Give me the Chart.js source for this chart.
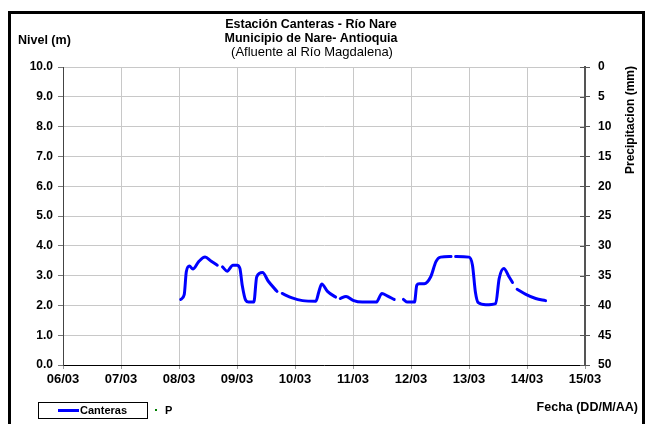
<!DOCTYPE html>
<html>
<head>
<meta charset="utf-8">
<script src="https://cdn.jsdelivr.net/npm/chart.js@4"></script>
<style>
  html, body { margin: 0; padding: 0; background: #fff; }
  #wrap { position: relative; width: 647px; height: 424px; }
</style>
</head>
<body>
<div id="wrap"><canvas id="c"></canvas></div>
<script>
// ---- data ----
const fechas = [8.03, 8.09, 8.126, 8.18, 8.24, 8.34, 8.45, 8.55, 8.66, 8.70,
  8.75, 8.83, 8.93, 9.0, 9.05, 9.09, 9.15, 9.2, 9.29, 9.34, 9.44, 9.54, 9.69, 9.73,
  9.78, 9.95, 10.13, 10.36, 10.41, 10.46, 10.56, 10.70, 10.74,
  10.78, 10.88, 11.0, 11.16, 11.4, 11.5, 11.59, 11.71, 11.79,
  11.87, 11.94, 12.06, 12.1, 12.14, 12.23, 12.34, 12.43, 12.51, 12.69, 12.73,
  12.77, 13.0, 13.06, 13.11, 13.16, 13.29, 13.46, 13.52, 13.6, 13.69, 13.75, 13.79,
  13.83, 13.98, 14.15, 14.32];
const nivel = [2.2, 2.36, 3.13, 3.32, 3.22, 3.47, 3.62, 3.49, 3.35, null,
  3.29, 3.15, 3.35, 3.35, 3.24, 2.68, 2.17, 2.11, 2.11, 2.96, 3.1, 2.81, 2.47, null,
  2.4, 2.25, 2.16, 2.14, 2.45, 2.72, 2.47, 2.28, null,
  2.23, 2.3, 2.17, 2.11, 2.11, 2.4, 2.32, 2.2, null,
  2.2, 2.11, 2.11, 2.68, 2.73, 2.73, 2.96, 3.47, 3.62, 3.64, null,
  3.64, 3.62, 3.35, 2.45, 2.09, 2.02, 2.06, 2.9, 3.24, 2.96, 2.77, null,
  2.54, 2.37, 2.23, 2.16];
const precipitacion = [];
const diasTicks = [6, 7, 8, 9, 10, 11, 12, 13, 14, 15];
const mes = '03';
const tituloLineas = ['Estación Canteras - Río Nare', 'Municipio de Nare- Antioquia'];
const subtitulo = '(Afluente al Río Magdalena)';

Chart.defaults.font.family = "'Liberation Sans', Arial, sans-serif";
Chart.defaults.color = '#000';

const FAM = "'Liberation Sans', Arial, sans-serif";

const decor = {
  id: 'decor',
  afterDraw(chart) {
    const ctx = chart.ctx;
    ctx.save();
    // titles
    ctx.fillStyle = '#000';
    ctx.textAlign = 'center';
    ctx.textBaseline = 'middle';
    ctx.font = 'bold 12.5px ' + FAM;
    ctx.fillText(tituloLineas[0], 311, 25);
    ctx.fillText(tituloLineas[1], 311, 38.5);
    ctx.font = '13px ' + FAM;
    ctx.fillText(subtitulo, 312, 52);
    // left axis title
    ctx.textAlign = 'left';
    ctx.font = 'bold 12.5px ' + FAM;
    ctx.fillText('Nivel (m)', 18, 41);
    // right axis title (rotated)
    ctx.save();
    ctx.translate(631, 120);
    ctx.rotate(-Math.PI / 2);
    ctx.textAlign = 'center';
    ctx.font = 'bold 12px ' + FAM;
    ctx.fillText('Precipitacion (mm)', 0, 0);
    ctx.restore();
    // x axis title
    ctx.textAlign = 'right';
    ctx.font = 'bold 12.5px ' + FAM;
    ctx.fillText('Fecha (DD/M/AA)', 638, 408);
    // inner ticks on right axis
    const y2 = chart.scales.y2;
    ctx.strokeStyle = '#555';
    ctx.lineWidth = 1;
    y2.ticks.forEach(t => {
      const py = Math.round(y2.getPixelForValue(t.value)) + 0.5;
      ctx.beginPath();
      ctx.moveTo(y2.left - 5, py);
      ctx.lineTo(y2.left, py);
      ctx.stroke();
    });
    // legend box
    ctx.strokeStyle = '#000';
    ctx.lineWidth = 1;
    ctx.strokeRect(38.5, 402.5, 109, 16);
    const ds = chart.data.datasets;
    ctx.strokeStyle = ds[0].borderColor;
    ctx.lineWidth = 3;
    ctx.beginPath();
    ctx.moveTo(58, 410.5);
    ctx.lineTo(79, 410.5);
    ctx.stroke();
    ctx.font = 'bold 11px ' + FAM;
    ctx.textAlign = 'left';
    ctx.fillStyle = '#000';
    ctx.fillText(ds[0].label, 80, 411);
    ctx.fillStyle = ds[1].backgroundColor;
    ctx.fillRect(155, 409, 2, 2);
    ctx.fillStyle = '#000';
    ctx.fillText(ds[1].label, 165, 411);
    // outer frame
    ctx.strokeStyle = '#000';
    ctx.lineWidth = 3;
    ctx.strokeRect(9.5, 12.5, 634, 430);
    ctx.restore();
  }
};

new Chart(document.getElementById('c'), {
  type: 'line',
  data: {
    datasets: [
      {
        label: 'Canteras',
        data: fechas.map((x, i) => ({ x: x, y: nivel[i] })),
        borderColor: '#0000ff',
        backgroundColor: '#0000ff',
        borderWidth: 3,
        pointRadius: 0,
        spanGaps: false,
        cubicInterpolationMode: 'monotone',
        borderCapStyle: 'round',
        yAxisID: 'y'
      },
      {
        label: 'P',
        data: precipitacion,
        borderColor: '#008000',
        backgroundColor: '#008000',
        showLine: false,
        pointRadius: 1.5,
        yAxisID: 'y2'
      }
    ]
  },
  options: {
    responsive: true,
    maintainAspectRatio: false,
    animation: false,
    devicePixelRatio: 1,
    layout: { padding: { top: 67, bottom: 39, left: 0, right: 0 } },
    plugins: { legend: { display: false }, title: { display: false }, tooltip: { enabled: false } },
    scales: {
      x: {
        type: 'linear',
        min: 6, max: 15,
        afterBuildTicks: s => { s.ticks = diasTicks.map(v => ({ value: v })); },
        afterFit: s => { s.height = 20; },
        ticks: {
          callback: v => String(v).padStart(2, '0') + '/' + mes,
          font: { size: 13, weight: 'bold' },
          color: '#000',
          maxRotation: 0,
          autoSkip: false,
          padding: 3
        },
        grid: { color: '#c8c8c8', lineWidth: 1, tickLength: 4, tickColor: '#999' },
        border: { color: '#000', width: 1 }
      },
      y: {
        position: 'left',
        min: 0, max: 10,
        afterFit: s => { s.width = 63; },
        ticks: {
          stepSize: 1,
          callback: v => v.toFixed(1),
          font: { size: 12, weight: 'bold' },
          color: '#000',
          padding: 5
        },
        grid: { color: '#c8c8c8', lineWidth: 1, tickLength: 5, tickColor: '#777' },
        border: { color: '#444', width: 1 }
      },
      y2: {
        position: 'right',
        reverse: true,
        min: 0, max: 50,
        afterFit: s => { s.width = 62; },
        ticks: {
          stepSize: 5,
          font: { size: 12, weight: 'bold' },
          color: '#000',
          padding: 8
        },
        grid: { drawOnChartArea: false, tickLength: 5, tickColor: '#555' },
        border: { color: '#555', width: 2 }
      }
    }
  },
  plugins: [decor]
});
</script>
</body>
</html>
